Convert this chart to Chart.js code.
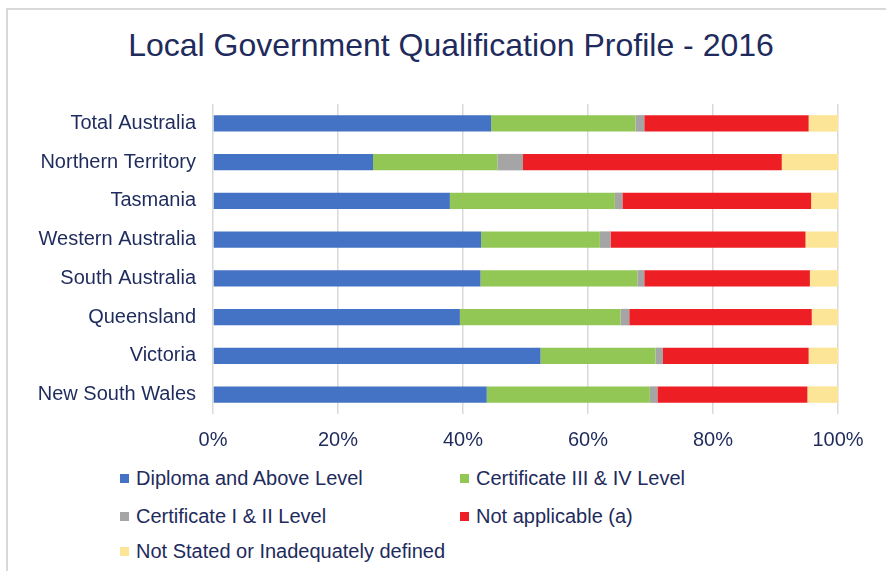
<!DOCTYPE html>
<html>
<head>
<meta charset="utf-8">
<script src="https://cdn.jsdelivr.net/npm/chart.js@4/dist/chart.umd.min.js"></script>
<style>
  html, body { margin: 0; padding: 0; background: #fff; }
  body { width: 886px; height: 571px; position: relative; overflow: hidden; font-family: "Liberation Sans", Arial, sans-serif; }
  #frame { position: absolute; left: 6px; top: 8px; width: 900px; height: 600px; border-top: 2px solid #d9d9d9; border-left: 2px solid #d9d9d9; }
  #title { position: absolute; left: 51px; top: 26px; width: 800px; text-align: center; font-size: 32px; line-height: 38px; color: #1e2b5c; white-space: nowrap; }
  #wrap { position: absolute; left: 0; top: 0; width: 886px; height: 460px; }
  #legend { position: absolute; left: 120px; top: 465px; width: 700px; }
  .item { position: absolute; font-size: 20px; color: #1e2b5c; white-space: nowrap; line-height: 26px; }
  .item span.box { display: inline-block; width: 9px; height: 9px; margin-right: 7px; vertical-align: 2px; }
</style>
</head>
<body>
<div id="frame"></div>
<div id="title">Local Government Qualification Profile - 2016</div>
<div id="wrap"><canvas id="chart"></canvas></div>
<div id="legend"></div>
<script>
const regions = ['Total Australia', 'Northern Territory', 'Tasmania', 'Western Australia',
                 'South Australia', 'Queensland', 'Victoria', 'New South Wales'];

// percentages, same order as regions
const diploma      = [44.5, 25.6, 37.9, 42.9, 42.8, 39.5, 52.4, 43.8];
const cert34       = [23.1, 19.9, 26.4, 19.0, 25.1, 25.7, 18.4, 26.1];
const cert12       = [1.4, 4.1, 1.2, 1.7, 1.1, 1.4, 1.2, 1.2];
const notApplic    = [26.3, 41.4, 30.2, 31.2, 26.5, 29.2, 23.3, 24.0];
const notStated    = [4.7, 9.0, 4.3, 5.2, 4.5, 4.2, 4.7, 4.9];

const seriesNames = ['Diploma and Above Level', 'Certificate III & IV Level', 'Certificate I & II Level',
                     'Not applicable (a)', 'Not Stated or Inadequately defined'];
const seriesColors = ['#4472c4', '#92c755', '#a5a5a5', '#ee1f24', '#fde598'];
const seriesData = [diploma, cert34, cert12, notApplic, notStated];

const xTicks = [0, 20, 40, 60, 80, 100];

const textColor = '#1e2b5c';
const fontFamily = '"Liberation Sans", Arial, sans-serif';

const datasets = seriesNames.map((name, i) => ({
  label: name,
  data: seriesData[i],
  backgroundColor: seriesColors[i],
  borderWidth: 0,
  categoryPercentage: 0.85,
  barPercentage: 0.5
}));

new Chart(document.getElementById('chart'), {
  type: 'bar',
  data: { labels: regions, datasets: datasets },
  options: {
    indexAxis: 'y',
    responsive: true,
    maintainAspectRatio: false,
    animation: false,
    layout: { padding: { left: 0, right: 48, top: 104, bottom: 0 } },
    plugins: {
      legend: { display: false },
      tooltip: { enabled: false },
      title: { display: false }
    },
    scales: {
      x: {
        stacked: true,
        min: 0,
        max: 100,
        afterBuildTicks: axis => { axis.ticks = xTicks.map(v => ({ value: v })); },
        afterFit: axis => { axis.height = 46; },
        grid: { color: '#d9d9d9', lineWidth: 1.5, drawTicks: false },
        border: { display: false },
        ticks: {
          color: textColor,
          font: { family: fontFamily, size: 20 },
          padding: 14,
          callback: v => v + '%'
        }
      },
      y: {
        stacked: true,
        afterFit: axis => { axis.width = 213; },
        grid: { display: false, drawTicks: false },
        border: { display: false },
        ticks: {
          color: textColor,
          font: { family: fontFamily, size: 20 },
          padding: 17
        }
      }
    }
  }
});

// legend laid out in two columns like the original
const legendPos = [[0, 0], [340, 0], [0, 38], [340, 38], [0, 73]];
const legend = document.getElementById('legend');
seriesNames.forEach((name, i) => {
  const d = document.createElement('div');
  d.className = 'item';
  d.style.left = legendPos[i][0] + 'px';
  d.style.top = legendPos[i][1] + 'px';
  d.innerHTML = '<span class="box" style="background:' + seriesColors[i] + '"></span>' + name;
  legend.appendChild(d);
});
</script>
</body>
</html>
